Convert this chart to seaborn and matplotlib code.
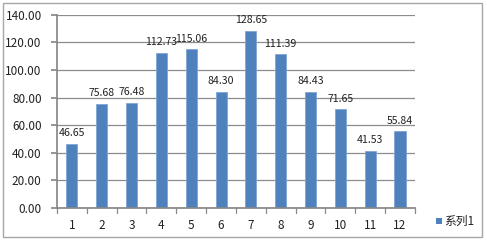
import matplotlib
matplotlib.use("Agg")
import matplotlib.pyplot as plt
import seaborn as sns
import pandas as pd
from matplotlib.patches import Rectangle

months = ["1", "2", "3", "4", "5", "6", "7", "8", "9", "10", "11", "12"]
values = [46.65, 75.68, 76.48, 112.73, 115.06, 84.30, 128.65, 111.39, 84.43, 71.65, 41.53, 55.84]
series_name = "系列1"

df = pd.DataFrame({"month": months, "value": values, "series": series_name})

sns.set_theme(style="white")
plt.rcParams['font.family'] = ['Noto Sans CJK SC', 'DejaVu Sans']

fig = plt.figure(figsize=(4.87, 2.40), dpi=100)
ax = fig.add_axes([0.117, 0.133, 0.735, 0.805])

sns.barplot(data=df, x="month", y="value", hue="series", palette=["#4F81BD"],
            saturation=1, width=0.37, ax=ax, legend=False,
            edgecolor="#7FA6D6", linewidth=0.6)

ax.set_ylim(0, 140)
ax.set_yticks(range(0, 141, 20))
ax.set_yticklabels([f"{v:.2f}" for v in range(0, 141, 20)], fontsize=8.5, color="#222222")
ax.set_xlim(-0.5, len(months) - 0.5)
ax.tick_params(axis="x", labelsize=8.5, colors="#222222", length=0, pad=8)
ax.tick_params(axis="y", length=4, color="#888888", pad=7, direction="out", left=True)
ax.set_xlabel("")
ax.set_ylabel("")
ax.yaxis.grid(True, color="#8C8C8C", linewidth=0.9)
ax.set_axisbelow(True)
for s in ["top", "right"]:
    ax.spines[s].set_visible(False)
ax.spines["left"].set_color("#888888")
ax.spines["bottom"].set_color("#888888")

# category boundary tick marks
for b in [i - 0.5 for i in range(len(months) + 1)]:
    ax.plot([b, b], [0, -3.5], color="#888888", linewidth=0.9, clip_on=False)

for i, v in enumerate(values):
    ax.text(i, v + 4, f"{v:.2f}", ha="center", va="bottom", fontsize=7.6, color="#222222")

# legend
fig.patches.append(Rectangle((0.895, 0.065), 0.013, 0.028, transform=fig.transFigure,
                             facecolor="#4F81BD", edgecolor="none"))
fig.text(0.911, 0.079, series_name, fontsize=8.5, va="center", ha="left", color="#222222")

# outer frame
fig.patches.append(Rectangle((0.006, 0.012), 0.984, 0.975, transform=fig.transFigure,
                             facecolor="none", edgecolor="#A6A6A6", linewidth=1.0))

fig.savefig("out.png", dpi=100)
